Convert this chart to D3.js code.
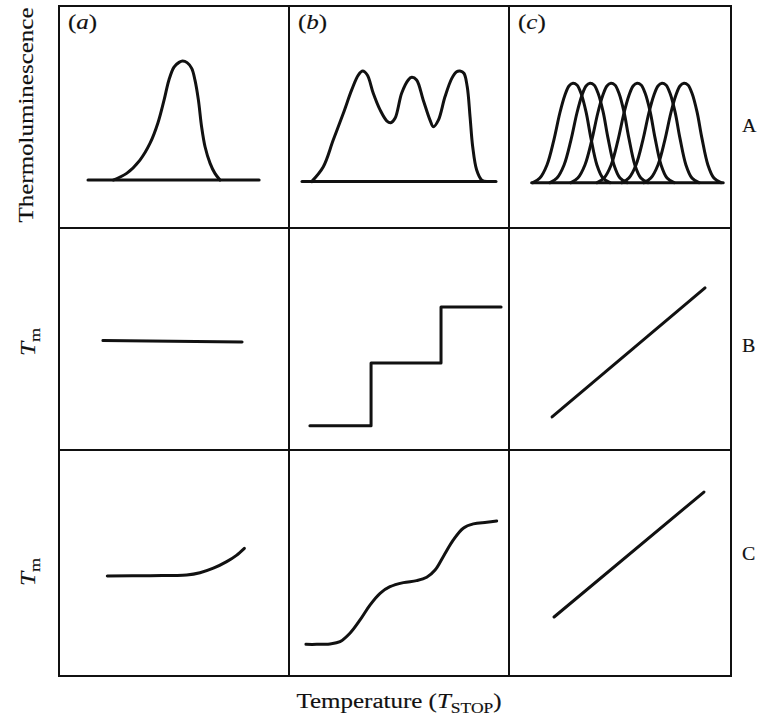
<!DOCTYPE html>
<html><head><meta charset="utf-8">
<script src="https://cdn.jsdelivr.net/npm/d3@7"></script>
<style>
body{margin:0;background:#fff}
svg{display:block}
text{font-family:"Liberation Serif","Times New Roman",serif;fill:#111;stroke:#111;stroke-width:0.15px}
</style>
</head><body>
<svg id="chart" width="762" height="722"></svg>
<script>
// ---------------- DATA (cell-relative units: x 0-100 across, y 0-100 up) ----------------
const panelLetters = ["a", "b", "c"];
const rowLabels = ["A", "B", "C"];
const yAxisTitle = "Thermoluminescence";
const tmLabel = ["T", "m"];
const xAxisTitle = ["Temperature (", "T", "STOP", ")"];

// Row A: glow curves
const glowSingle = [[23.6,21.6],[29.4,24.6],[35.2,30.6],[39.6,38.2],[43.0,47.3],[45.7,57.7],[47.8,66.7],
  [50.0,72.5],[52.2,74.6],[53.7,75.2],[55.7,74.5],[57.7,71.9],[59.1,66.7],[60.6,57.7],[62.0,45.6],[63.5,36.6],
  [65.7,29.1],[67.8,24.6],[70.0,21.6]];
const glowSingleBase = [[12.6,21.6],[87.0,21.6]];

const glowTriple = [[10.3,20.9],[15.6,27.6],[20.1,39.6],[24.7,51.7],[28.5,62.2],[31.5,68.9],[33.5,70.7],
  [35.6,68.9],[38.3,60.7],[41.4,53.2],[44.4,48.3],[46.2,47.4],[48.2,49.4],[51.2,60.7],[54.2,66.7],
  [55.8,67.9],[58.0,66.7],[61.0,57.7],[64.1,48.6],[65.6,45.6],[67.9,48.6],[70.9,59.1],[74.0,67.4],
  [76.2,70.4],[77.7,70.7],[79.5,69.7],[81.0,63.7],[82.3,50.1],[83.5,36.6],[85.3,26.1],[87.6,21.6],[89.9,20.9]];
const glowTripleBase = [[5.9,20.9],[94.1,20.9]];

// Row A (c): continuous distribution -> six overlapping peaks (profile read from first peak)
const peakCenters = [28.8, 36.5, 45.9, 57.7, 68.9, 78.8];
const peakProfile = [[-18,20.4],[-14.9,22.5],[-11.7,28.4],[-8.6,39.6],[-5.9,51.8],[-3.6,59.9],[-1.8,64.0],
  [0,65.2],[1.8,64.4],[3.6,60.8],[5.9,52.3],[8.1,40.5],[10.8,28.4],[13.5,22.5],[16.7,20.4]];
const peaksBase = [[10.2,20.4],[96.5,20.4]];

// Row B: Tm vs Tstop
const tmFlat = [[19.1,49.3],[79.6,48.6]];
const tmSteps = [[9.5,10.9],[37.3,39.2],[69.1,64.4],[96.4,64.4]];
const tmLinearB = [[19.4,14.9],[88.3,73.0]];

// Row C: Tm vs Tstop (smoothed)
const tmRising = [[21.0,44.2],[39.6,44.4],[55.5,44.7],[61.3,45.7],[67.1,47.7],[72.9,50.6],[77.3,53.5],[80.6,56.5]];
const tmWavy = [[7.7,14.0],[12.6,14.0],[18.6,14.2],[23.2,15.2],[27.7,18.9],[32.3,24.8],[36.8,31.4],[41.4,36.6],
  [45.9,39.5],[52.0,41.3],[58.0,42.2],[62.6,43.7],[66.4,46.9],[70.1,52.8],[74.7,60.2],[79.2,65.4],
  [83.8,67.3],[89.9,68.0],[94.4,68.6]];
const tmLinearC = [[20.3,26.1],[87.8,81.4]];

// ---------------- LAYOUT ----------------
const colEdges = [59, 289, 509, 731];
const rowEdges = [6, 228, 450, 676];
const svg = d3.select("#chart");

const panels = [
  {r:0,c:0,series:[{d:glowSingleBase,k:"lin"},{d:glowSingle,k:"smooth"}]},
  {r:0,c:1,series:[{d:glowTripleBase,k:"lin"},{d:glowTriple,k:"smooth"}]},
  {r:0,c:2,series:[{d:peaksBase,k:"lin"}].concat(peakCenters.map(c => ({d:peakProfile.map(p => [c + p[0], p[1]]), k:"smooth"})))},
  {r:1,c:0,series:[{d:tmFlat,k:"lin"}]},
  {r:1,c:1,series:[{d:tmSteps,k:"step"}]},
  {r:1,c:2,series:[{d:tmLinearB,k:"lin"}]},
  {r:2,c:0,series:[{d:tmRising,k:"smooth"}]},
  {r:2,c:1,series:[{d:tmWavy,k:"smooth"}]},
  {r:2,c:2,series:[{d:tmLinearC,k:"lin"}]}
];

const curves = {lin: d3.curveLinear, smooth: d3.curveCatmullRom.alpha(0.5), step: d3.curveStepAfter};

panels.forEach(p => {
  const x = d3.scaleLinear().domain([0,100]).range([colEdges[p.c], colEdges[p.c+1]]);
  const y = d3.scaleLinear().domain([0,100]).range([rowEdges[p.r+1], rowEdges[p.r]]);
  p.series.forEach(s => {
    const line = d3.line().x(d => x(d[0])).y(d => y(d[1])).curve(curves[s.k]);
    svg.append("path").attr("d", line(s.d))
      .attr("fill","none").attr("stroke","#111").attr("stroke-width",3)
      .attr("stroke-linecap","round").attr("stroke-linejoin","round");
  });
});

// grid
const grid = svg.append("g").attr("stroke","#111").attr("stroke-width",2).attr("fill","none");
grid.append("rect").attr("x",colEdges[0]).attr("y",rowEdges[0])
  .attr("width",colEdges[3]-colEdges[0]).attr("height",rowEdges[3]-rowEdges[0]);
[1,2].forEach(i => {
  grid.append("line").attr("x1",colEdges[i]).attr("x2",colEdges[i]).attr("y1",rowEdges[0]).attr("y2",rowEdges[3]);
  grid.append("line").attr("y1",rowEdges[i]).attr("y2",rowEdges[i]).attr("x1",colEdges[0]).attr("x2",colEdges[3]);
});

// panel letters
panelLetters.forEach((L,i) => {
  const t = svg.append("g").attr("transform",`translate(${colEdges[i]+9},29) scale(1.25,1)`)
    .append("text").attr("font-size",20);
  t.append("tspan").text("(");
  t.append("tspan").attr("font-style","italic").text(L);
  t.append("tspan").text(")");
});

// row labels
const rowBase = [132, 352, 560];
rowLabels.forEach((L,i) => {
  svg.append("g").attr("transform",`translate(742,${rowBase[i]}) scale(1.05,1)`)
    .append("text").attr("font-size",19).text(L);
});

// y axis titles
svg.append("g").attr("transform","translate(33,115) rotate(-90) scale(1.25,1)")
  .append("text").attr("text-anchor","middle").attr("font-size",20).text(yAxisTitle);

[342, 572].forEach(cy => {
  const t = svg.append("g").attr("transform",`translate(35,${cy}) rotate(-90) scale(1.2,1)`)
    .append("text").attr("text-anchor","middle").attr("font-size",21);
  t.append("tspan").attr("font-style","italic").text(tmLabel[0]);
  t.append("tspan").attr("font-size",15).attr("dy",5).text(tmLabel[1]);
});

// x axis title
const xt = svg.append("g").attr("transform","translate(399,708) scale(1.25,1)")
  .append("text").attr("text-anchor","middle").attr("font-size",20);
xt.append("tspan").text(xAxisTitle[0]);
xt.append("tspan").attr("font-style","italic").text(xAxisTitle[1]);
xt.append("tspan").attr("font-size",14).attr("dy",5).text(xAxisTitle[2]);
xt.append("tspan").attr("dy",-5).text(xAxisTitle[3]);
</script>
</body></html>
